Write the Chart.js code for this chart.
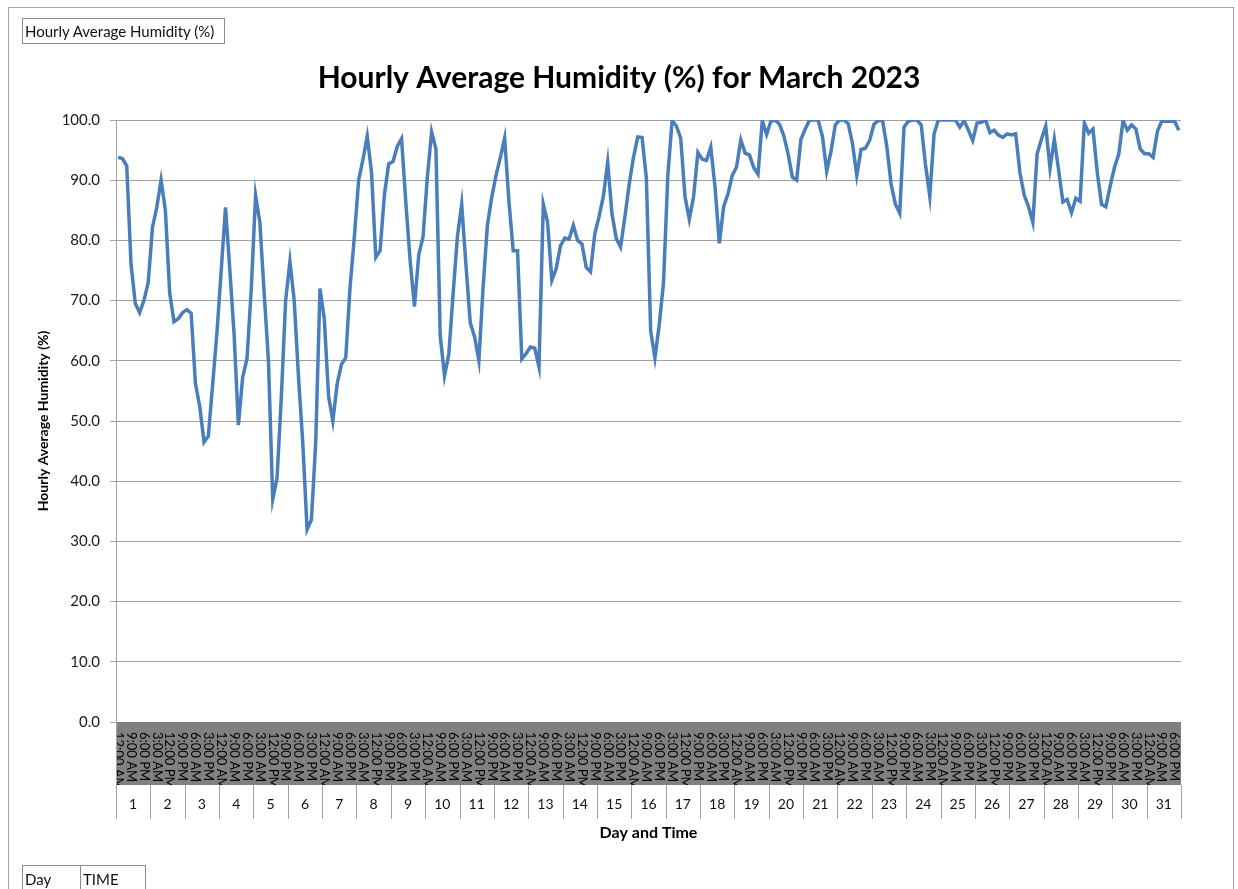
<!DOCTYPE html>
<html>
<head>
<meta charset="utf-8">
<title>Hourly Average Humidity (%) for March 2023</title>
<script src="https://cdn.jsdelivr.net/npm/chart.js@4.4.1/dist/chart.umd.min.js"></script>
<style>
  body { margin: 0; background: #fff; overflow: hidden; }
  #wrap { position: relative; width: 1238px; height: 889px; font-family: Lato, "Open Sans", sans-serif; }
  #humidityChart { position: absolute; left: 0; top: 0; }
  .frame { position: absolute; left: 8px; top: 7px; width: 1224px; height: 1000px; border: 1px solid #a6a6a6; }
  .field { position: absolute; border: 1px solid #8c8c8c; font-size: 15px; color: #111; padding-left: 2px; box-sizing: border-box; white-space: nowrap; }
</style>
</head>
<body>
<div id="wrap">
  <div class="frame"></div>
  <canvas id="humidityChart" width="1238" height="889"></canvas>
  <div class="field" style="left:22px;top:18px;width:203px;height:26px;line-height:24px;">Hourly Average Humidity (%)</div>
  <div class="field" style="left:22px;top:865px;width:59px;height:30px;line-height:26px;">Day</div>
  <div class="field" style="left:80px;top:865px;width:66px;height:30px;line-height:26px;">TIME</div>
</div>
<script>
const days = [1, 2, 3, 4, 5, 6, 7, 8, 9, 10, 11, 12, 13, 14, 15, 16,
  17, 18, 19, 20, 21, 22, 23, 24, 25, 26, 27, 28, 29, 30, 31];

const times = ["12:00 AM", "3:00 AM", "6:00 AM", "9:00 AM", "12:00 PM", "3:00 PM", "6:00 PM", "9:00 PM"];

// one row per day, 3-hourly readings
const humidity = [
  93.8, 93.6, 92.4, 76.0, 69.5, 68.0, 70.0, 73.0,
  82.2, 85.5, 90.0, 85.0, 71.3, 66.5, 67.0, 68.0,
  68.5, 67.9, 56.2, 52.4, 46.5, 47.5, 56.0, 64.6,
  75.0, 85.5, 75.2, 64.4, 49.3, 57.3, 60.3, 71.9,
  87.5, 83.0, 71.3, 60.0, 37.0, 40.5, 54.0, 70.0,
  76.5, 70.0, 57.3, 46.3, 32.0, 33.6, 46.3, 72.0,
  67.0, 54.1, 50.0, 56.2, 59.4, 60.5, 72.2, 80.6,
  90.0, 93.4, 97.3, 91.3, 77.2, 78.3, 87.6, 92.7,
  93.1, 95.6, 96.9, 86.2, 76.6, 69.0, 77.6, 80.6,
  90.5, 98.0, 95.2, 64.2, 57.5, 61.1, 71.1, 80.6,
  86.0, 75.8, 66.3, 64.0, 60.0, 72.4, 82.6, 87.2,
  90.8, 93.8, 97.0, 86.5, 78.3, 78.3, 60.3, 61.2,
  62.3, 62.1, 59.0, 86.0, 83.0, 73.4, 75.3, 79.1,
  80.4, 80.2, 82.5, 80.0, 79.4, 75.5, 74.8, 81.1,
  84.0, 87.4, 93.0, 84.4, 80.3, 78.9, 83.9, 89.3,
  93.8, 97.2, 97.1, 90.4, 65.0, 60.5, 66.0, 73.0,
  90.8, 99.9, 99.0, 97.0, 87.3, 83.5, 87.3, 94.6,
  93.5, 93.3, 95.5, 88.8, 79.5, 85.6, 87.7, 90.8,
  92.2, 96.7, 94.5, 94.2, 92.1, 91.0, 99.9, 97.6,
  99.8, 100.0, 99.3, 97.4, 94.4, 90.5, 90.0, 96.8,
  98.5, 100.0, 100.0, 100.0, 97.3, 91.5, 94.8, 99.2,
  100.0, 100.0, 99.4, 96.1, 90.8, 95.1, 95.3, 96.6,
  99.3, 99.9, 99.9, 95.6, 89.3, 86.0, 84.5, 98.8,
  99.8, 100.0, 100.0, 99.2, 92.6, 87.3, 97.7, 100.0,
  100.0, 100.0, 100.0, 100.0, 98.8, 99.9, 98.3, 96.6,
  99.5, 99.6, 100.0, 97.9, 98.3, 97.5, 97.1, 97.7,
  97.5, 97.7, 91.2, 87.5, 85.6, 83.0, 94.4, 96.8,
  99.0, 92.0, 96.8, 91.7, 86.4, 86.8, 84.6, 87.0,
  86.5, 99.5, 97.8, 98.5, 91.3, 86.0, 85.6, 89.0,
  92.1, 94.3, 99.9, 98.3, 99.2, 98.5, 95.2, 94.4,
  94.4, 93.8, 98.1, 99.8, 99.8, 99.8, 99.8, 98.3
];

const labels = [];
days.forEach(d => times.forEach(t => labels.push(`${d} ${t}`)));

const FONT = "Lato, 'Open Sans', sans-serif";
const GRID = "#a0a0a0";

// excel style category axis: grey band with time labels, then a row of day boxes
const excelAxis = {
  id: "excelAxis",
  afterDraw(chart) {
    const { ctx, chartArea } = chart;
    const x = chart.scales.x;
    const bandTop = chartArea.bottom;
    const bandBottom = bandTop + 63;
    const rowBottom = bandBottom + 34;

    ctx.save();
    ctx.fillStyle = "#808080";
    ctx.fillRect(chartArea.left, bandTop, chartArea.right - chartArea.left, bandBottom - bandTop);

    ctx.beginPath();
    ctx.rect(chartArea.left, bandTop, chartArea.right - chartArea.left, bandBottom - bandTop);
    ctx.clip();
    ctx.fillStyle = "#000";
    ctx.font = `13px ${FONT}`;
    ctx.textBaseline = "middle";
    ctx.textAlign = "left";
    labels.forEach((lab, i) => {
      if (i % 3 !== 0) return;
      ctx.save();
      ctx.translate(x.getPixelForValue(i), bandTop + 10);
      ctx.rotate(Math.PI / 2);
      ctx.fillText(times[i % times.length], 0, 0);
      ctx.restore();
    });
    ctx.restore();

    ctx.save();
    ctx.strokeStyle = GRID;
    ctx.lineWidth = 1;
    for (let d = 0; d <= days.length; d++) {
      const px = Math.round(x.getPixelForValue(d * times.length - 0.5)) + 0.5;
      ctx.beginPath();
      ctx.moveTo(px, bandBottom);
      ctx.lineTo(px, rowBottom);
      ctx.stroke();
    }
    ctx.beginPath();
    ctx.moveTo(chartArea.left + 0.5, bandTop);
    ctx.lineTo(chartArea.left + 0.5, bandBottom);
    ctx.stroke();

    ctx.fillStyle = "#111";
    ctx.font = `14px ${FONT}`;
    ctx.textAlign = "center";
    ctx.textBaseline = "middle";
    days.forEach((d, i) => {
      ctx.fillText(String(d), x.getPixelForValue(i * times.length + 3.5), bandBottom + 19);
    });

    ctx.font = `bold 16px ${FONT}`;
    ctx.fillStyle = "#000";
    ctx.fillText("Day and Time", (chartArea.left + chartArea.right) / 2, rowBottom + 14);
    ctx.restore();
  }
};

new Chart(document.getElementById("humidityChart"), {
  type: "line",
  data: {
    labels: labels,
    datasets: [{
      label: "Hourly Average Humidity (%)",
      data: humidity,
      borderColor: "#4a7ebb",
      borderWidth: 3.5,
      pointRadius: 0,
      tension: 0,
      fill: false
    }]
  },
  options: {
    responsive: false,
    animation: false,
    layout: { padding: { left: 0, right: 0, top: 0, bottom: 167 } },
    plugins: {
      legend: { display: false },
      tooltip: { enabled: false },
      title: {
        display: true,
        text: "Hourly Average Humidity (%) for March 2023",
        color: "#000",
        font: { family: FONT, size: 30, weight: "bold" },
        padding: { top: 60, bottom: 24 }
      }
    },
    scales: {
      x: {
        display: false,
        offset: true
      },
      y: {
        min: 0,
        max: 100,
        afterFit: s => { s.width = 116; },
        ticks: {
          stepSize: 10,
          padding: 10,
          color: "#1a1a1a",
          font: { family: FONT, size: 15 },
          callback: v => Number(v).toFixed(1)
        },
        grid: { color: GRID, tickLength: 6 },
        border: { color: GRID },
        title: {
          display: true,
          text: "Hourly Average Humidity (%)",
          color: "#000",
          font: { family: FONT, size: 14, weight: "bold" },
          padding: { top: 35 }
        }
      },
      // empty right axis, only keeps the white margin right of the plot
      yRight: {
        position: "right",
        min: 0,
        max: 100,
        afterFit: s => { s.width = 57; },
        ticks: { display: false },
        grid: { display: false },
        border: { display: false }
      }
    }
  },
  plugins: [excelAxis]
});
</script>
</body>
</html>
